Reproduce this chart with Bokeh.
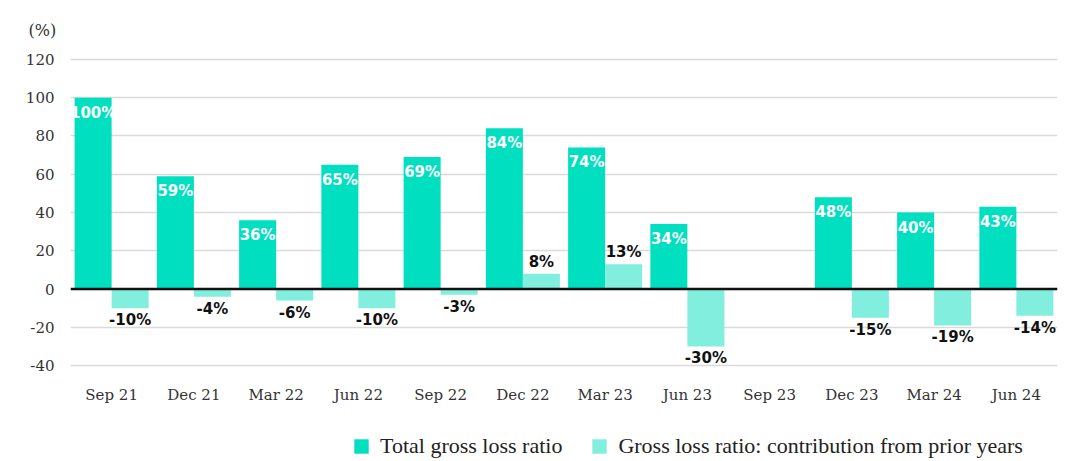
from bokeh.plotting import figure
from bokeh.models import ColumnDataSource, FactorRange, Span, Legend, LegendItem, FixedTicker, Title
from bokeh.layouts import column
from bokeh.transform import dodge
from bokeh.core.properties import value
from bokeh.embed import file_html
from bokeh.resources import INLINE
import math

quarters = ["Sep 21", "Dec 21", "Mar 22", "Jun 22", "Sep 22", "Dec 22",
            "Mar 23", "Jun 23", "Sep 23", "Dec 23", "Mar 24", "Jun 24"]
total_ratio = [100, 59, 36, 65, 69, 84, 74, 34, float("nan"), 48, 40, 43]
prior_years = [-10, -4, -6, -10, -3, 8, 13, -30, float("nan"), -15, -19, -14]
y_ticks = [-40, -20, 0, 20, 40, 60, 80, 100, 120]

TOTAL_C = "#00DFBF"
PRIOR_C = "#82EEDD"

def lab(v):
    return "" if math.isnan(v) else f"{int(v)}%"

src = ColumnDataSource(dict(
    q=quarters,
    total=total_ratio,
    prior=prior_years,
    total_lab=[lab(v) for v in total_ratio],
    prior_pos=[v if (not math.isnan(v) and v >= 0) else float("nan") for v in prior_years],
    prior_neg=[v if (not math.isnan(v) and v < 0) else float("nan") for v in prior_years],
    prior_pos_lab=[lab(v) if (not math.isnan(v) and v >= 0) else "" for v in prior_years],
    prior_neg_lab=[lab(v) if (not math.isnan(v) and v < 0) else "" for v in prior_years],
))

MAIN_H = 420
LEG_H = 41
W = 1068

p = figure(width=W, height=MAIN_H, x_range=FactorRange(*quarters),
           y_range=(-41, 121), output_backend="svg", toolbar_location=None,
           min_border_left=70, min_border_right=11, min_border_top=57,
           min_border_bottom=53)
p.x_range.range_padding = 0
p.x_range.factor_padding = 0

p.vbar(x=dodge("q", -0.225, range=p.x_range), top="total", bottom=0, width=0.45,
       source=src, fill_color=TOTAL_C, line_color=None)
p.vbar(x=dodge("q", 0.225, range=p.x_range), top="prior", bottom=0, width=0.45,
       source=src, fill_color=PRIOR_C, line_color=None)

lab_font = value("DejaVu Sans")
p.text(x=dodge("q", -0.225, range=p.x_range), y="total", text="total_lab", source=src,
       text_color="white", text_font=lab_font, text_font_style="bold", text_font_size="15px",
       text_align="center", text_baseline="top", y_offset=6)
p.text(x=dodge("q", 0.225, range=p.x_range), y="prior_pos", text="prior_pos_lab", source=src,
       text_color="#111111", text_font=lab_font, text_font_style="bold", text_font_size="15px",
       text_align="center", text_baseline="bottom", y_offset=-3)
p.text(x=dodge("q", 0.225, range=p.x_range), y="prior_neg", text="prior_neg_lab", source=src,
       text_color="#111111", text_font=lab_font, text_font_style="bold", text_font_size="15px",
       text_align="center", text_baseline="top", y_offset=3)

p.add_layout(Span(location=0, dimension="width", line_color="#111111", line_width=2.5))

p.outline_line_color = None
p.xgrid.grid_line_color = None
p.ygrid.grid_line_color = "#dadada"
p.ygrid.grid_line_width = 1.5
p.ygrid.ticker = FixedTicker(ticks=y_ticks)

p.yaxis.ticker = FixedTicker(ticks=y_ticks)
p.yaxis.major_label_overrides = {t: str(t) for t in y_ticks}
for ax in (p.xaxis, p.yaxis):
    ax.axis_line_color = None
    ax.major_tick_line_color = None
    ax.minor_tick_line_color = None
    ax.major_label_text_font = "DejaVu Serif"
    ax.major_label_text_font_size = "15px"
    ax.major_label_text_color = "#333333"
p.yaxis.major_label_standoff = 10
p.xaxis.major_label_standoff = 12

t = Title(text="(%)", text_font="DejaVu Serif", text_font_size="16px", text_font_style="normal",
          text_color="#333333", align="left", offset=-42, standoff=35)
p.add_layout(t, "above")

# legend strip below the chart
lg = figure(width=W, height=LEG_H, x_range=FactorRange(*quarters), y_range=(1000, 1001),
            output_backend="svg", toolbar_location=None,
            min_border_left=0, min_border_right=0, min_border_top=0, min_border_bottom=0)
lr1 = lg.vbar(x="q", top="total", bottom=0, width=0.45, source=src,
              fill_color=TOTAL_C, line_color=None)
lr2 = lg.vbar(x="q", top="prior", bottom=0, width=0.45, source=src,
              fill_color=PRIOR_C, line_color=None)
lg.axis.visible = False
lg.grid.grid_line_color = None
lg.outline_line_color = None

legend = Legend(items=[LegendItem(label="Total gross loss ratio", renderers=[lr1]),
                       LegendItem(label="Gross loss ratio: contribution from prior years", renderers=[lr2])],
                orientation="horizontal", location=(282, 2), border_line_color=None,
                background_fill_alpha=0, label_text_font="Liberation Serif",
                label_text_font_size="22px", label_text_color="#222222",
                glyph_width=18, glyph_height=18, label_standoff=10, spacing=28,
                padding=0, margin=0)
lg.add_layout(legend, "center")

layout = column(p, lg, spacing=0)
open("out.html", "w").write(file_html(layout, INLINE))
